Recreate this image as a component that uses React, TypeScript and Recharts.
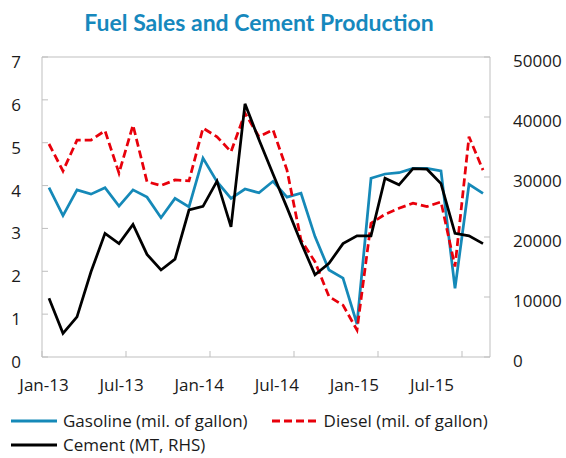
import {
  Legend,
  Line,
  LineChart,
  ReferenceLine,
  XAxis,
  YAxis,
} from 'recharts';

const months = [
  'Jan-13', 'Feb-13', 'Mar-13', 'Apr-13', 'May-13', 'Jun-13', 'Jul-13', 'Aug-13',
  'Sep-13', 'Oct-13', 'Nov-13', 'Dec-13', 'Jan-14', 'Feb-14', 'Mar-14', 'Apr-14',
  'May-14', 'Jun-14', 'Jul-14', 'Aug-14', 'Sep-14', 'Oct-14', 'Nov-14', 'Dec-14',
  'Jan-15', 'Feb-15', 'Mar-15', 'Apr-15', 'May-15', 'Jun-15', 'Jul-15', 'Aug-15',
];

// mil. of gallon (LHS)
const gasoline = [
  3.95, 3.3, 3.9, 3.8, 3.95, 3.52, 3.9, 3.73, 3.25, 3.7, 3.5, 4.64, 4.09, 3.7, 3.92, 3.83,
  4.1, 3.73, 3.82, 2.81, 2.03, 1.84, 0.77, 4.17, 4.27, 4.3, 4.4, 4.4, 4.34, 1.6, 4.03, 3.82,
];
const diesel = [
  4.97, 4.34, 5.06, 5.06, 5.28, 4.29, 5.41, 4.09, 4.0, 4.13, 4.11, 5.34, 5.14, 4.79, 5.69, 5.14,
  5.3, 4.36, 2.73, 2.22, 1.41, 1.21, 0.63, 3.12, 3.33, 3.47, 3.59, 3.51, 3.62, 2.11, 5.14, 4.36,
];
// MT (RHS)
const cement = [
  9800, 3950, 6700, 14200, 20600, 18900, 22100, 17100, 14500, 16300, 24500, 25100, 29300, 21700,
  42200, 36200, 30500, 24900, 19100, 13700, 15600, 18900, 20200, 20200, 29800, 28700, 31400,
  31300, 28900, 20600, 20200, 18900,
];

const leftTicks = [0, 1, 2, 3, 4, 5, 6, 7];
const rightTicks = [0, 10000, 20000, 30000, 40000, 50000];
const xTickLabels = ['Jan-13', 'Jul-13', 'Jan-14', 'Jul-14', 'Jan-15', 'Jul-15'];

const series = [
  { key: 'gasoline', name: 'Gasoline (mil. of gallon)', color: '#1589b8', dash: undefined, axis: 'left' },
  { key: 'diesel', name: 'Diesel (mil. of gallon)', color: '#e8000b', dash: '8 4', axis: 'left' },
  { key: 'cement', name: 'Cement (MT, RHS)', color: '#000000', dash: undefined, axis: 'right' },
];

const data = months.map((month, i) => ({
  idx: i,
  month,
  gasoline: gasoline[i],
  diesel: diesel[i],
  cement: cement[i],
}));

// ticks sit between months, like the source chart
const xTicks = xTickLabels.map((l) => months.indexOf(l) - 0.5);

const FRAME = '#bfbfbf';
const TEXT = '#1a1a1a';
const FONT = '"Open Sans", sans-serif';

function LeftTick({ x, y, payload }: any) {
  return (
    <g>
      <line x1={x} x2={x + 6} y1={y} y2={y} stroke={FRAME} />
      <text x={x - 21} y={y + 5} dy="0.35em" textAnchor="end" fill={TEXT} fontSize={17} fontFamily={FONT}>
        {payload.value}
      </text>
    </g>
  );
}

function RightTick({ x, y, payload }: any) {
  return (
    <g>
      <line x1={x - 6} x2={x} y1={y} y2={y} stroke={FRAME} />
      <text x={x + 23} y={y + 4} dy="0.35em" textAnchor="start" fill={TEXT} fontSize={17} fontFamily={FONT}>
        {payload.value}
      </text>
    </g>
  );
}

function BottomTick({ x, y, payload, index }: any) {
  // labels in the source drift a little left of their tick marks
  const shift = 2 - index * 6.4;
  return (
    <g>
      <line x1={x} x2={x} y1={y} y2={y - 6} stroke={FRAME} />
      <text x={x + shift} y={y + 28} dy="0.35em" textAnchor="middle" fill={TEXT} fontSize={17} fontFamily={FONT}>
        {months[payload.value + 0.5]}
      </text>
    </g>
  );
}

function ChartLegend() {
  return (
    <div
      style={{
        display: 'flex',
        flexWrap: 'wrap',
        columnGap: 24,
        rowGap: 6,
        paddingLeft: 11,
        paddingTop: 15,
        width: 555,
        fontFamily: FONT,
        fontSize: 17,
        color: TEXT,
        lineHeight: '18px',
      }}
    >
      {series.map((s) => (
        <div key={s.key} style={{ display: 'flex', alignItems: 'center' }}>
          <svg width={46} height={10} style={{ marginRight: 6 }}>
            <line x1={0} x2={46} y1={5} y2={5} stroke={s.color} strokeWidth={3} strokeDasharray={s.dash} />
          </svg>
          <span>{s.name}</span>
        </div>
      ))}
    </div>
  );
}

export default function App() {
  return (
    <div style={{ position: 'absolute', left: 0, top: 0, width: 566, height: 458, background: '#fff' }}>
      <div
        style={{
          position: 'absolute',
          left: 0,
          top: 8,
          width: 518,
          textAlign: 'center',
          fontFamily: 'Lato, sans-serif',
          fontWeight: 700,
          fontSize: 23,
          color: '#1688bd',
        }}
      >
        Fuel Sales and Cement Production
      </div>
      <LineChart width={566} height={458} data={data} margin={{ top: 57, right: 0, bottom: 0, left: 0 }}>
        <XAxis
          dataKey="idx"
          type="number"
          domain={[-0.5, 31.5]}
          ticks={xTicks}
          interval={0}
          height={40}
          tickSize={0}
          tickMargin={0}
          axisLine={{ stroke: FRAME }}
          tickLine={false}
          tick={<BottomTick />}
        />
        <YAxis
          yAxisId="left"
          domain={[0, 7]}
          ticks={leftTicks}
          width={42}
          tickSize={0}
          tickMargin={0}
          axisLine={{ stroke: FRAME }}
          tickLine={false}
          tick={<LeftTick />}
        />
        <YAxis
          yAxisId="right"
          orientation="right"
          domain={[0, 50000]}
          ticks={rightTicks}
          width={76}
          tickSize={0}
          tickMargin={0}
          axisLine={{ stroke: FRAME }}
          tickLine={false}
          tick={<RightTick />}
        />
        <ReferenceLine yAxisId="left" y={7} stroke={FRAME} />
        {series.map((s) => (
          <Line
            key={s.key}
            yAxisId={s.axis}
            type="linear"
            dataKey={s.key}
            name={s.name}
            stroke={s.color}
            strokeWidth={2.75}
            strokeDasharray={s.dash}
            dot={false}
            activeDot={false}
            isAnimationActive={false}
          />
        ))}
        <Legend verticalAlign="bottom" align="left" height={61} content={<ChartLegend />} />
      </LineChart>
    </div>
  );
}
